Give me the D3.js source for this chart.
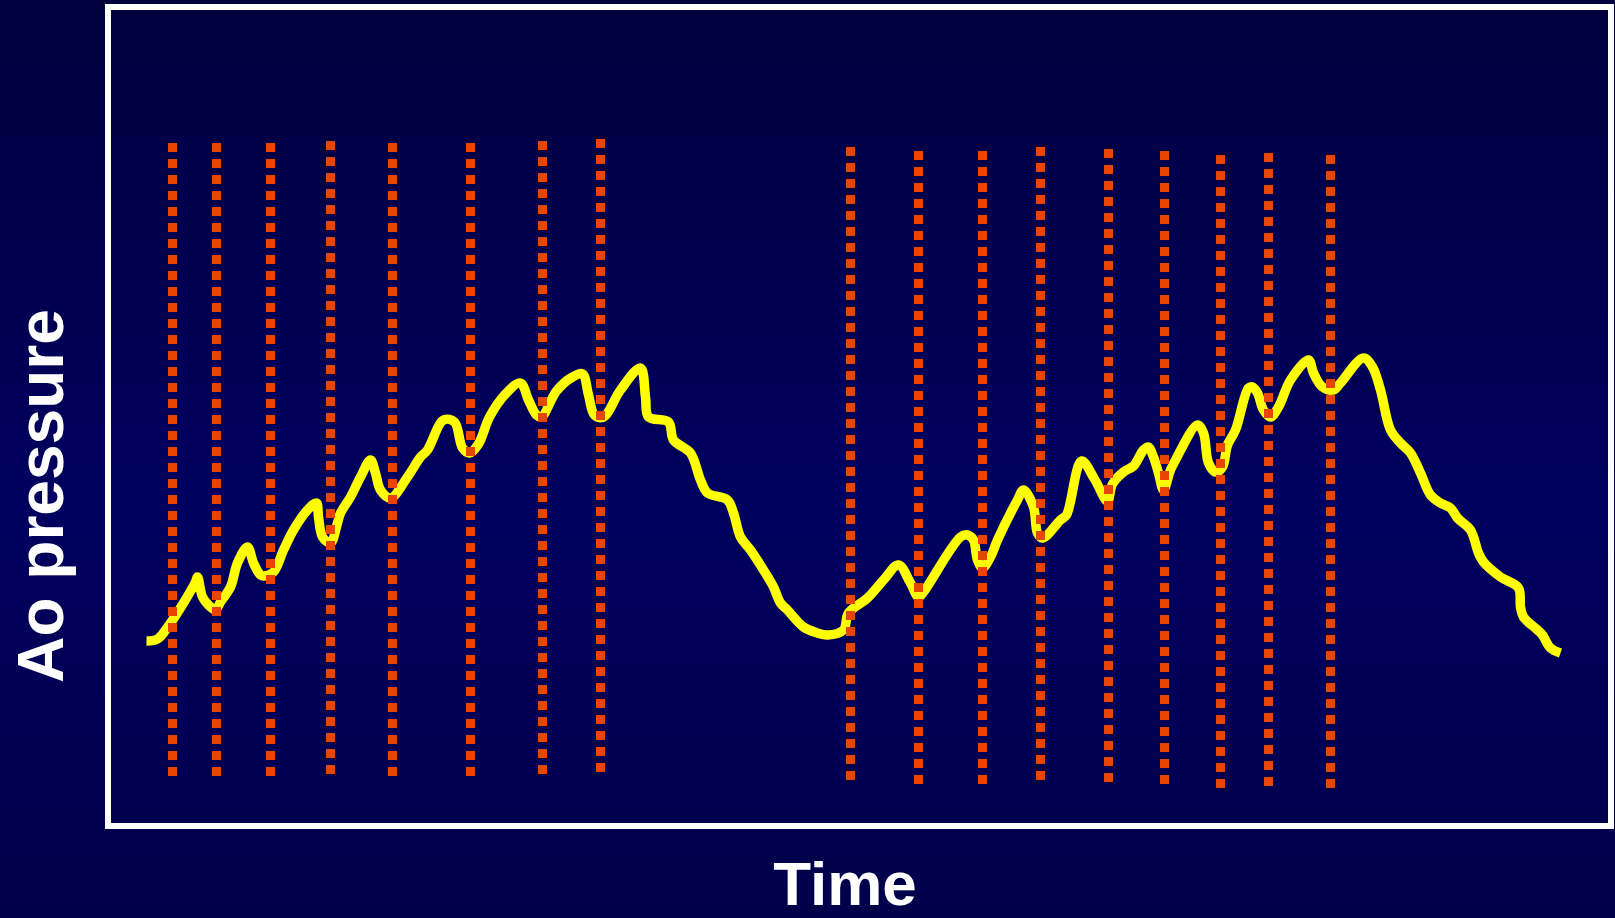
<!DOCTYPE html>
<html>
<head>
<meta charset="utf-8">
<script src="https://cdn.jsdelivr.net/npm/d3@7"></script>
<style>
  html, body { margin: 0; padding: 0; background: #000050; }
  svg { display: block; }
</style>
</head>
<body>
<div id="chart"></div>
<script>
// time (x) and aortic pressure (y) of the trace, in chart units
var traceTime = [36, 47, 60, 73, 85, 87, 92, 98, 105, 110, 120, 127, 137, 143, 150, 154, 163, 173, 183, 197,
    206, 208, 212, 220, 227, 230, 240, 250, 260, 265, 270, 280, 297, 310, 317, 333, 344, 352, 359, 368,
    379, 395, 410, 418, 426, 431, 446, 462, 472, 478, 484, 493, 510, 530, 535, 538, 558, 563, 580, 590,
    597, 617, 623, 630, 640, 653, 663, 670, 677, 693, 707, 717, 733, 738, 757, 773, 788, 800, 808, 813,
    850, 857, 863, 867, 872, 880, 887, 907, 913, 923, 927, 932, 950, 956, 971, 984, 997, 1002, 1013, 1023,
    1033, 1038, 1043, 1048, 1053, 1060, 1065, 1087, 1093, 1098, 1105, 1112, 1117, 1125, 1138, 1142, 1147, 1153, 1160, 1168,
    1180, 1198, 1203, 1212, 1223, 1230, 1253, 1262, 1270, 1280, 1290, 1300, 1310, 1320, 1330, 1340, 1347, 1360, 1368, 1373,
    1390, 1408, 1410, 1413, 1427, 1432, 1440, 1450];
var tracePressure = [185, 187, 203, 223, 244, 249, 229, 221, 216, 224, 239, 263, 279, 263, 251, 250, 254, 276, 296, 316,
    323, 309, 289, 283, 303, 313, 329, 349, 366, 353, 336, 328, 349, 369, 376, 406, 404, 378, 373, 382,
    409, 432, 443, 426, 411, 409, 435, 449, 452, 431, 411, 409, 436, 458, 429, 409, 404, 386, 373, 346,
    333, 326, 313, 289, 276, 256, 239, 223, 216, 199, 193, 191, 196, 213, 228, 246, 261, 243, 229, 234,
    289, 291, 286, 266, 258, 269, 286, 326, 336, 319, 293, 288, 306, 311, 365, 347, 325, 342, 354, 360,
    376, 379, 369, 353, 336, 356, 366, 401, 393, 363, 354, 359, 381, 396, 438, 439, 433, 416, 409, 419,
    446, 466, 453, 439, 436, 443, 468, 459, 436, 396, 383, 373, 353, 331, 323, 318, 308, 296, 273, 264,
    249, 238, 219, 209, 196, 191, 178, 173];

// beat markers (dotted verticals): time, upper and lower end
var markerTime = [62, 106, 160, 220, 282, 360, 432, 490, 740, 808, 872, 930, 998, 1054, 1110, 1158, 1220];
var markerHigh = [683, 683, 683, 685, 683, 683, 685, 687, 679, 675, 675, 679, 677, 675, 671, 673, 671];
var markerLow  = [50, 50, 50, 52, 50, 50, 52, 54, 46, 42, 42, 46, 44, 42, 38, 40, 38];

var xLabel = "Time";
var yLabel = "Ao pressure";

var W = 1615, H = 918;

var svg = d3.select("#chart").append("svg")
    .attr("width", W)
    .attr("height", H);

var grad = svg.append("defs").append("linearGradient")
    .attr("id", "bg")
    .attr("x1", 0).attr("y1", 0).attr("x2", 0).attr("y2", 1);
grad.append("stop").attr("offset", "0%").attr("stop-color", "#00003d");
grad.append("stop").attr("offset", "55%").attr("stop-color", "#00005f");
grad.append("stop").attr("offset", "100%").attr("stop-color", "#00004a");

svg.append("rect")
    .attr("width", W)
    .attr("height", H)
    .attr("fill", "url(#bg)");

// Scales
var x = d3.scaleLinear().domain([0, 1500]).range([110.5, 1610.5]);
var y = d3.scaleLinear().domain([0, 800]).range([826, 26]);

// frame
svg.append("rect")
    .attr("x", 108)
    .attr("y", 7)
    .attr("width", 1503)
    .attr("height", 819)
    .attr("fill", "none")
    .attr("stroke", "#ffffff")
    .attr("stroke-width", 6);

var trace = traceTime.map(function (t, i) {
    return {t: t, p: tracePressure[i]};
});

var line = d3.line()
    .x(function (d) { return x(d.t); })
    .y(function (d) { return y(d.p); })
    .curve(d3.curveCatmullRom.alpha(0.5));

svg.append("path")
    .datum(trace)
    .attr("d", line)
    .attr("fill", "none")
    .attr("stroke", "#ffff00")
    .attr("stroke-width", 9.5)
    .attr("stroke-linejoin", "round")
    .attr("stroke-linecap", "butt");

var markers = markerTime.map(function (t, i) {
    return {t: t, hi: markerHigh[i], lo: markerLow[i]};
});

svg.selectAll(".marker")
    .data(markers)
    .enter().append("line")
    .attr("class", "marker")
    .attr("x1", function (d) { return x(d.t); })
    .attr("x2", function (d) { return x(d.t); })
    .attr("y1", function (d) { return y(d.hi); })
    .attr("y2", function (d) { return y(d.lo); })
    .attr("stroke", "#e84600")
    .attr("stroke-width", 9)
    .attr("stroke-dasharray", "9,7");

// axis titles
svg.append("text")
    .attr("x", 845)
    .attr("y", 905)
    .attr("text-anchor", "middle")
    .attr("fill", "#ffffff")
    .style("font-family", "'Liberation Sans', Arial, sans-serif")
    .style("font-weight", "bold")
    .style("font-size", "62px")
    .text(xLabel);

svg.append("text")
    .attr("transform", "translate(63,496) rotate(-90)")
    .attr("text-anchor", "middle")
    .attr("fill", "#ffffff")
    .style("font-family", "'Liberation Sans', Arial, sans-serif")
    .style("font-weight", "bold")
    .style("font-size", "64px")
    .text(yLabel);
</script>
</body>
</html>
